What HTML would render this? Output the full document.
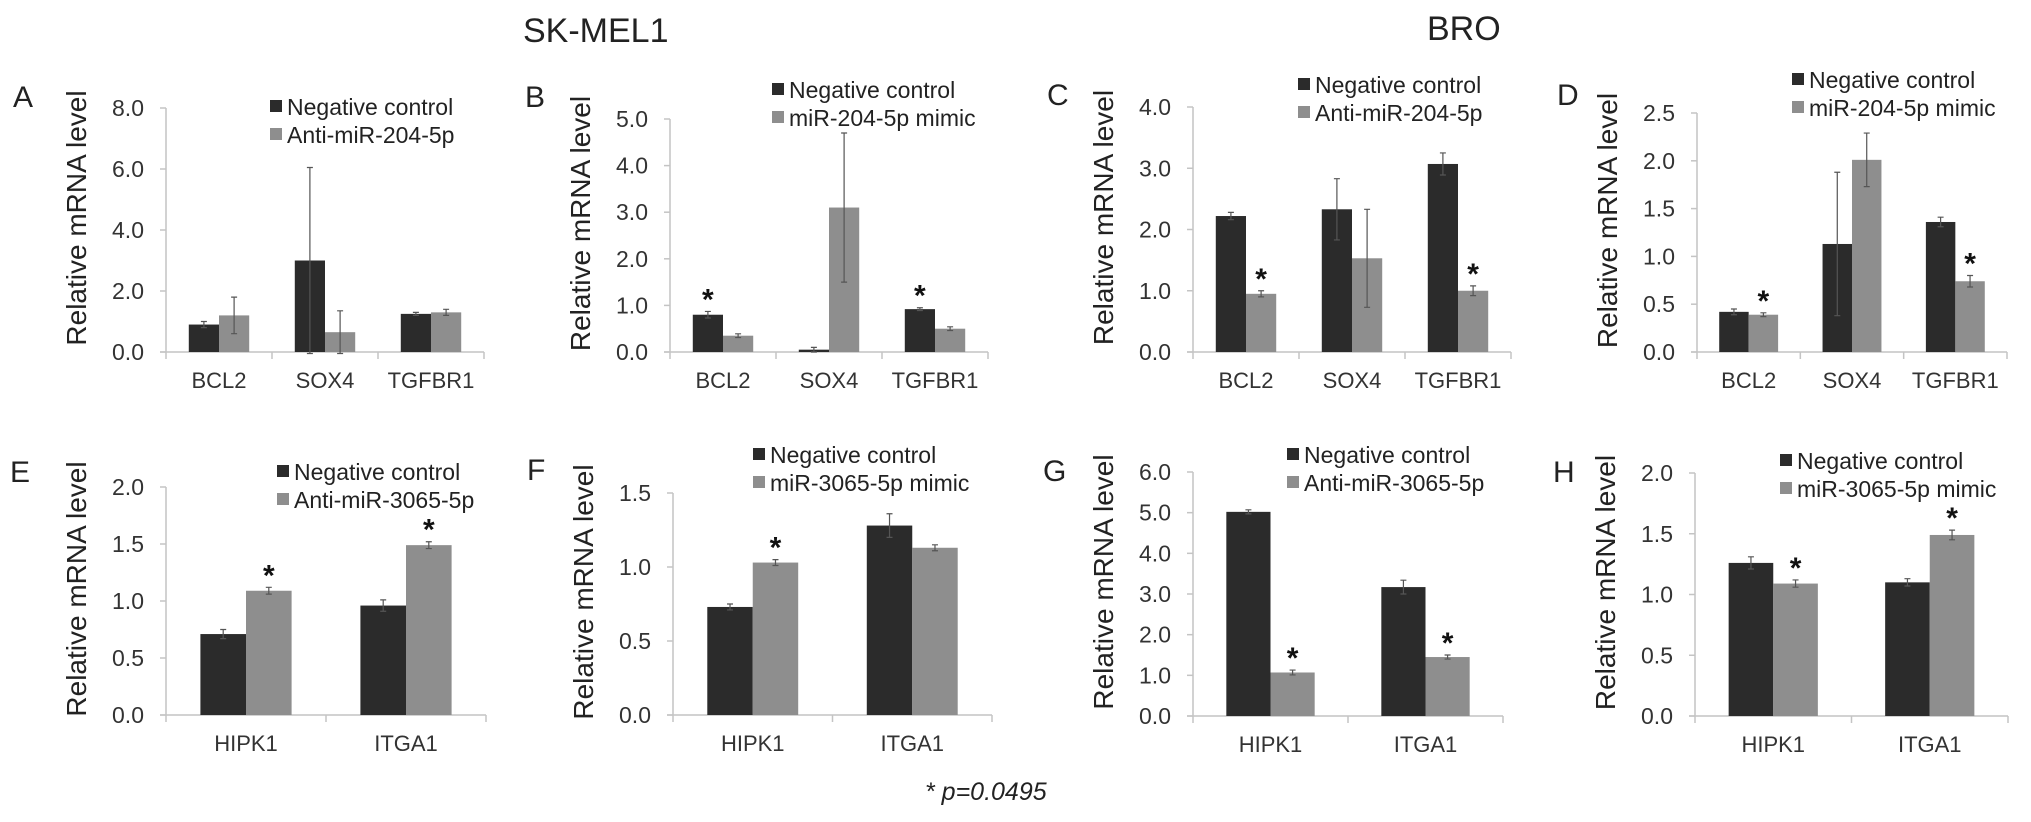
<!DOCTYPE html>
<html>
<head>
<meta charset="utf-8">
<style>
html,body{margin:0;padding:0;background:#fff;}
svg{display:block;font-family:"Liberation Sans",Arial,sans-serif;}
</style>
</head>
<body>
<svg id="fig" width="2031" height="822" viewBox="0 0 2031 822" xmlns="http://www.w3.org/2000/svg">
<text x="523" y="42" font-size="34" fill="#222">SK-MEL1</text>
<text x="1427" y="40" font-size="34" fill="#222">BRO</text>
<text x="925" y="800" font-size="25" font-style="italic" fill="#222">* p=0.0495</text>
</svg>
<script>
// ---- data ----
const catsTop = ["BCL2", "SOX4", "TGFBR1"];
const catsBot = ["HIPK1", "ITGA1"];

const aNeg = [0.9, 3.0, 1.25];  const aTrt = [1.2, 0.65, 1.3];
const aNegErr = [0.1, 3.05, 0.05]; const aTrtErr = [0.6, 0.7, 0.1];
const aStarNeg = [0, 0, 0]; const aStarTrt = [0, 0, 0];
const aTicks = ["0.0", "2.0", "4.0", "6.0", "8.0"];

const bNeg = [0.8, 0.05, 0.92]; const bTrt = [0.35, 3.1, 0.5];
const bNegErr = [0.07, 0.05, 0.03]; const bTrtErr = [0.04, 1.6, 0.04];
const bStarNeg = [1, 0, 1]; const bStarTrt = [0, 0, 0];
const bTicks = ["0.0", "1.0", "2.0", "3.0", "4.0", "5.0"];

const cNeg = [2.22, 2.33, 3.07]; const cTrt = [0.95, 1.53, 1.0];
const cNegErr = [0.06, 0.5, 0.18]; const cTrtErr = [0.05, 0.8, 0.08];
const cStarNeg = [0, 0, 0]; const cStarTrt = [1, 0, 1];
const cTicks = ["0.0", "1.0", "2.0", "3.0", "4.0"];

const dNeg = [0.42, 1.13, 1.36]; const dTrt = [0.39, 2.01, 0.74];
const dNegErr = [0.03, 0.75, 0.05]; const dTrtErr = [0.02, 0.28, 0.06];
const dStarNeg = [0, 0, 0]; const dStarTrt = [1, 0, 1];
const dTicks = ["0.0", "0.5", "1.0", "1.5", "2.0", "2.5"];

const eNeg = [0.71, 0.96]; const eTrt = [1.09, 1.49];
const eNegErr = [0.04, 0.05]; const eTrtErr = [0.03, 0.03];
const eStarNeg = [0, 0]; const eStarTrt = [1, 1];
const eTicks = ["0.0", "0.5", "1.0", "1.5", "2.0"];

const fNeg = [0.73, 1.28]; const fTrt = [1.03, 1.13];
const fNegErr = [0.02, 0.08]; const fTrtErr = [0.02, 0.02];
const fStarNeg = [0, 0]; const fStarTrt = [1, 0];
const fTicks = ["0.0", "0.5", "1.0", "1.5"];

const gNeg = [5.02, 3.17]; const gTrt = [1.07, 1.45];
const gNegErr = [0.05, 0.17]; const gTrtErr = [0.06, 0.05];
const gStarNeg = [0, 0]; const gStarTrt = [1, 1];
const gTicks = ["0.0", "1.0", "2.0", "3.0", "4.0", "5.0", "6.0"];

const hNeg = [1.26, 1.1]; const hTrt = [1.09, 1.49];
const hNegErr = [0.05, 0.03]; const hTrtErr = [0.03, 0.04];
const hStarNeg = [0, 0]; const hStarTrt = [1, 1];
const hTicks = ["0.0", "0.5", "1.0", "1.5", "2.0"];

const legendTrt = ["Anti-miR-204-5p", "miR-204-5p mimic", "Anti-miR-204-5p", "miR-204-5p mimic",
                   "Anti-miR-3065-5p", "miR-3065-5p mimic", "Anti-miR-3065-5p", "miR-3065-5p mimic"];

// ---- layout ----
const panels = [
 {id:"a", L:"A", lx:13, ly:107, x0:166, x1:484, yTop:108, y0:352, cats:catsTop, neg:aNeg, trt:aTrt, ne:aNegErr, te:aTrtErr, sn:aStarNeg, st:aStarTrt, ticks:aTicks, lgx:270, lgy:115, lg:0},
 {id:"b", L:"B", lx:525, ly:107, x0:670, x1:988, yTop:119, y0:352, cats:catsTop, neg:bNeg, trt:bTrt, ne:bNegErr, te:bTrtErr, sn:bStarNeg, st:bStarTrt, ticks:bTicks, lgx:772, lgy:98, lg:1},
 {id:"c", L:"C", lx:1047, ly:105, x0:1193, x1:1511, yTop:107, y0:352, cats:catsTop, neg:cNeg, trt:cTrt, ne:cNegErr, te:cTrtErr, sn:cStarNeg, st:cStarTrt, ticks:cTicks, lgx:1298, lgy:93, lg:2},
 {id:"d", L:"D", lx:1557, ly:105, x0:1697, x1:2007, yTop:113, y0:352, cats:catsTop, neg:dNeg, trt:dTrt, ne:dNegErr, te:dTrtErr, sn:dStarNeg, st:dStarTrt, ticks:dTicks, lgx:1792, lgy:88, lg:3},
 {id:"e", L:"E", lx:10, ly:482, x0:166, x1:486, yTop:487, y0:715, cats:catsBot, neg:eNeg, trt:eTrt, ne:eNegErr, te:eTrtErr, sn:eStarNeg, st:eStarTrt, ticks:eTicks, lgx:277, lgy:480, lg:4},
 {id:"f", L:"F", lx:527, ly:480, x0:673, x1:992, yTop:493, y0:715, cats:catsBot, neg:fNeg, trt:fTrt, ne:fNegErr, te:fTrtErr, sn:fStarNeg, st:fStarTrt, ticks:fTicks, lgx:753, lgy:463, lg:5},
 {id:"g", L:"G", lx:1043, ly:481, x0:1193, x1:1503, yTop:472, y0:716, cats:catsBot, neg:gNeg, trt:gTrt, ne:gNegErr, te:gTrtErr, sn:gStarNeg, st:gStarTrt, ticks:gTicks, lgx:1287, lgy:463, lg:6},
 {id:"h", L:"H", lx:1553, ly:482, x0:1695, x1:2008, yTop:473, y0:716, cats:catsBot, neg:hNeg, trt:hTrt, ne:hNegErr, te:hTrtErr, sn:hStarNeg, st:hStarTrt, ticks:hTicks, lgx:1780, lgy:469, lg:7}
];

const NS = "http://www.w3.org/2000/svg";
const svg = document.getElementById("fig");
function mk(tag, attrs, parent) {
  const el = document.createElementNS(NS, tag);
  for (const k in attrs) el.setAttribute(k, attrs[k]);
  (parent || svg).appendChild(el);
  return el;
}

panels.forEach(p => {
  const g = mk("g", {});
  
  
  const tmax = parseFloat(p.ticks[p.ticks.length - 1]);
  const yS = v => p.y0 - (v / tmax) * (p.y0 - p.yTop);
  const band = (p.x1 - p.x0) / p.cats.length;
  const bw = band * 0.285;
  const xC = i => p.x0 + band * (i + 0.5);

  const lt = mk("text", {x:p.lx, y:p.ly, "font-size":30, fill:"#222"}, g);
  lt.textContent = p.L;
  
  

  // axes
  const ya = mk("line", {x1:p.x0, y1:p.yTop, x2:p.x0, y2:p.y0, stroke:"#c4c4c4", "stroke-width":1.5}, g);
  
  
  const xa = mk("line", {x1:p.x0 - 6, y1:p.y0, x2:p.x1, y2:p.y0, stroke:"#c4c4c4", "stroke-width":1.5}, g);
  
  
  for (let i = 0; i <= p.cats.length; i++) {
    const xt = p.x0 + band * i;
    const tk = mk("line", {x1:xt, y1:p.y0, x2:xt, y2:p.y0 + 7, stroke:"#c4c4c4", "stroke-width":1.5}, g);
    
    
  }
  p.ticks.forEach(t => {
    const v = parseFloat(t), y = yS(v);
    const tk = mk("line", {x1:p.x0 - 6, y1:y, x2:p.x0, y2:y, stroke:"#c4c4c4", "stroke-width":1.5}, g);
    
    
    const tl = mk("text", {x:p.x0 - 22, y:y + 8, "font-size":23, "text-anchor":"end", fill:"#333"}, g);
    tl.textContent = t;
    
    
  });
  const cy = (p.yTop + p.y0) / 2 - 12, cx = p.x0 - 80;
  const yt = mk("text", {x:cx, y:cy, "font-size":28, "text-anchor":"middle", fill:"#222", transform:`rotate(-90 ${cx} ${cy})`}, g);
  yt.textContent = "Relative mRNA level";
  
  

  p.cats.forEach((c, i) => {
    const cl = mk("text", {x:xC(i), y:p.y0 + 36, "font-size":22, "text-anchor":"middle", fill:"#333"}, g);
    cl.textContent = c;
    
    
    [[p.neg, p.ne, p.sn, "#2b2b2b", -1, "negative"], [p.trt, p.te, p.st, "#8e8e8e", 0, "treatment"]].forEach(s => {
      const v = s[0][i], e = s[1][i];
      const bx = xC(i) + s[4] * bw;
      const r = mk("rect", {x:bx, y:yS(v), width:bw, height:p.y0 - yS(v), fill:s[3]}, g);
      
      
      const mx = bx + bw / 2;
      const eb = mk("path", {d:`M${mx},${yS(v - e)}V${yS(v + e)}M${mx - 3},${yS(v + e)}H${mx + 3}M${mx - 3},${yS(v - e)}H${mx + 3}`, stroke:"#555", "stroke-width":1.2, fill:"none"}, g);
      
      
      if (s[2][i]) {
        const st = mk("text", {x:mx, y:yS(v + e) - 2, "font-size":30, "font-weight":"bold", "text-anchor":"middle", fill:"#111"}, g);
        st.textContent = "*";
        
        
      }
    });
  });

  // legend
  [["Negative control", "#2b2b2b"], [legendTrt[p.lg], "#8e8e8e"]].forEach((l, k) => {
    const by = p.lgy + k * 28;
    const sq = mk("rect", {x:p.lgx, y:by - 15, width:12, height:12, fill:l[1]}, g);
    
    
    const lt2 = mk("text", {x:p.lgx + 17, y:by, "font-size":23, fill:"#222"}, g);
    lt2.textContent = l[0];
    
    
  });
});
</script>
</body>
</html>
